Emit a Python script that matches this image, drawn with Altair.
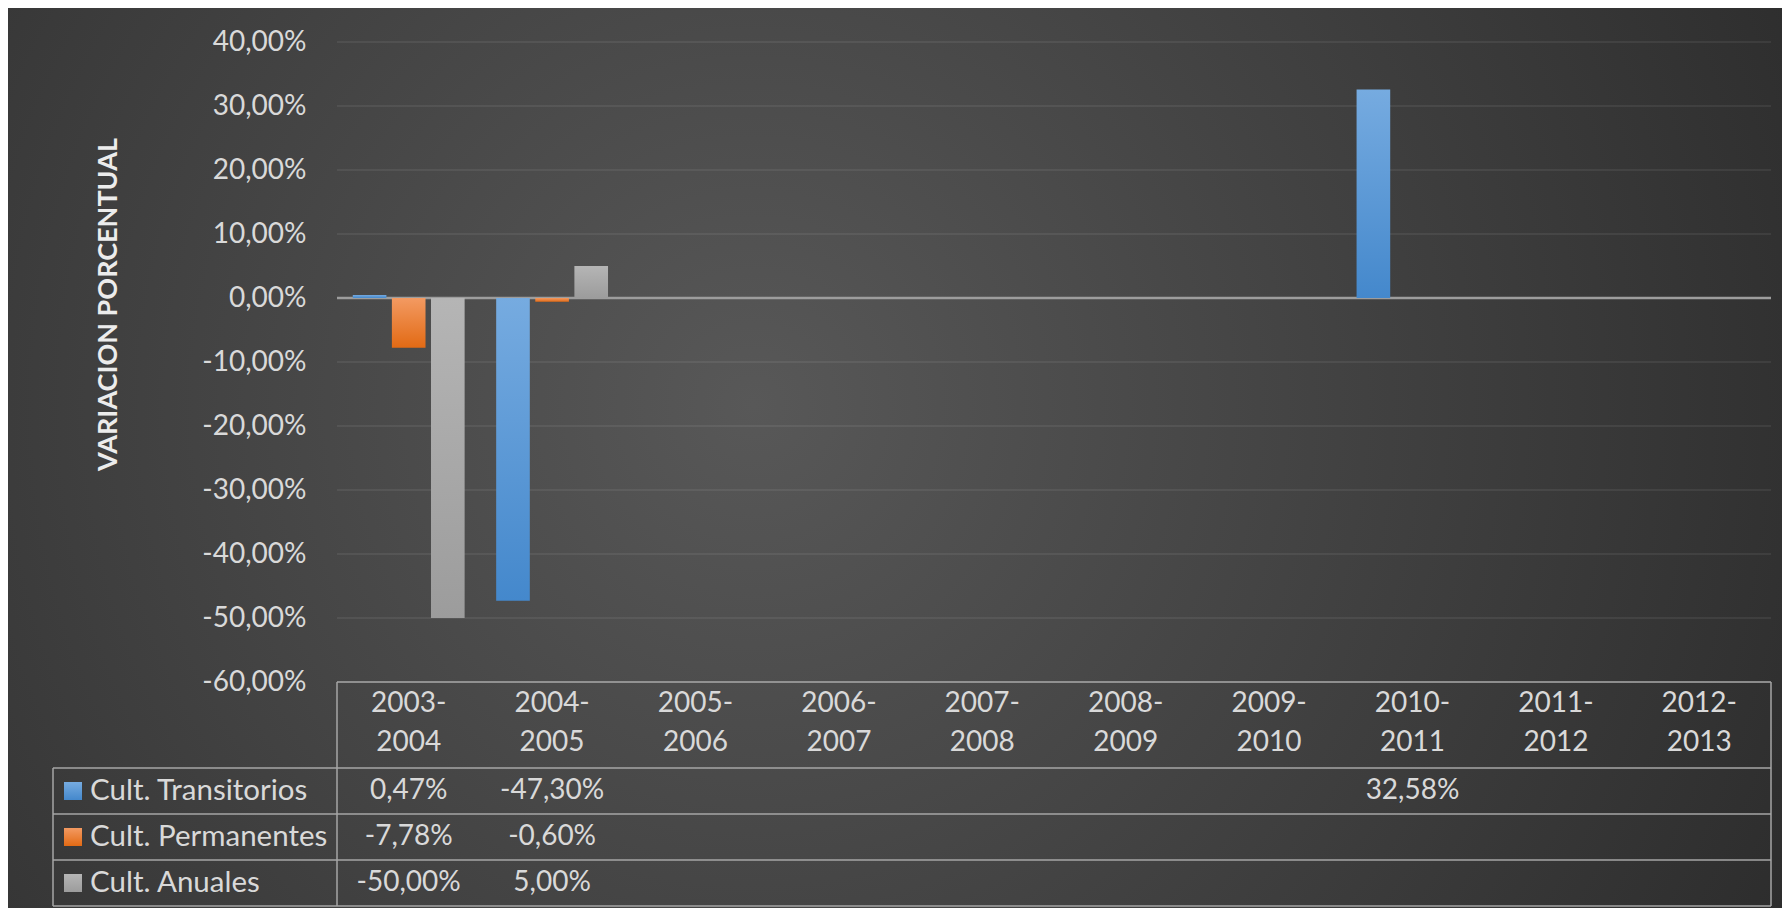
import altair as alt
import pandas as pd

categories = ["2003-2004", "2004-2005", "2005-2006", "2006-2007", "2007-2008",
              "2008-2009", "2009-2010", "2010-2011", "2011-2012", "2012-2013"]
series = ["Cult. Transitorios", "Cult. Permanentes", "Cult. Anuales"]
transitorios = [0.47, -47.30, None, None, None, None, None, 32.58, None, None]
permanentes = [-7.78, -0.60, None, None, None, None, None, None, None, None]
anuales = [-50.00, 5.00, None, None, None, None, None, None, None, None]
y_ticks = [40, 30, 20, 10, 0, -10, -20, -30, -40, -50, -60]

grad_colors = {
    "Cult. Transitorios": ("#76abe0", "#4488cc"),
    "Cult. Permanentes": ("#f39a62", "#e26a14"),
    "Cult. Anuales": ("#b5b5b5", "#9c9c9c"),
}

rows = []
for s, vals in zip(series, [transitorios, permanentes, anuales]):
    for c, v in zip(categories, vals):
        rows.append({"cat": c, "serie": s, "valor": v})
df = pd.DataFrame(rows)
df_cat = pd.DataFrame({"cat": categories})
df_ticks = pd.DataFrame({"t": [t for t in y_ticks if t != 0]})
one = pd.DataFrame({"k": [0]})

W, H = 1434, 640
PAD = {"left": 329, "top": 34, "right": 11, "bottom": 226}
FONT = "Lato"
FS = 28
TXT = "#d9d9d9"
LINE = "#a6a6a6"

x_scale = alt.Scale(domain=categories, paddingInner=0.22, paddingOuter=0.11)
y_scale = alt.Scale(domain=[-60, 40], nice=False, zero=True)
xoff_scale = alt.Scale(domain=series, paddingInner=0.14, paddingOuter=0)
fmt = "replace(replace(format(datum.value, '.2f'), '.', ','), '\u2212', '-') + '%'"
fmt_v = "replace(replace(format(datum.valor, '.2f'), '.', ','), '\u2212', '-') + '%'"

y_axis = alt.Axis(values=y_ticks, labelExpr=fmt, grid=False, domain=False, ticks=False,
                  labelPadding=31, labelFontSize=FS, labelColor=TXT, labelFont=FONT,
                  title="VARIACION PORCENTUAL", titleFont=FONT, titleFontSize=27,
                  titleFontWeight="bold", titleColor="#ececec", titleX=-229, titleY=262,
                  titleAngle=270, titleAlign="center", titleBaseline="middle", zindex=1)


def grad(c1, c2):
    return alt.LinearGradient(gradient="linear", x1=0, y1=0, x2=0, y2=1,
                              stops=[alt.GradientStop(color=c1, offset=0),
                                     alt.GradientStop(color=c2, offset=1)])


# background panel
bg = alt.Chart(one).mark_rect(
    fill=alt.RadialGradient(gradient="radial", x1=0.42, y1=0.47, x2=0.42, y2=0.47,
                            r1=0, r2=0.75,
                            stops=[alt.GradientStop(color="#585858", offset=0),
                                   alt.GradientStop(color="#262626", offset=1)])
).encode(x=alt.value(-PAD["left"]), x2=alt.value(W + PAD["right"]),
         y=alt.value(-PAD["top"]), y2=alt.value(H + PAD["bottom"]))

grid = alt.Chart(df_ticks).mark_rule(color="#ffffff", opacity=0.09, strokeWidth=1.5).encode(
    y=alt.Y("t:Q", scale=y_scale, axis=y_axis), x=alt.value(0), x2=alt.value(W))

zero = alt.Chart(one).mark_rule(color="#9d9d9d", strokeWidth=2.5).encode(
    y=alt.YDatum(0, scale=y_scale, axis=y_axis),
    x=alt.value(0), x2=alt.value(W))

layers = [bg, grid, zero]
for s in series:
    c1, c2 = grad_colors[s]
    layers.append(
        alt.Chart(df).transform_filter(alt.datum.serie == s).mark_bar(color=grad(c1, c2)).encode(
            x=alt.X("cat:N", scale=x_scale, axis=None),
            xOffset=alt.XOffset("serie:N", scale=xoff_scale),
            y=alt.Y("valor:Q", scale=y_scale, axis=y_axis),
        )
    )

# table: category header (two lines)
for expr, yy in [("substring(datum.cat, 0, 5)", 662), ("substring(datum.cat, 5)", 701)]:
    layers.append(
        alt.Chart(df_cat).transform_calculate(lbl=expr).mark_text(
            font=FONT, fontSize=FS, color=TXT, baseline="middle", align="center"
        ).encode(x=alt.X("cat:N", scale=x_scale, axis=None), y=alt.value(yy), text="lbl:N")
    )

row_lines = [726, 772, 818, 864]
row_centers = [749, 795, 841]
for s, yc in zip(series, row_centers):
    layers.append(
        alt.Chart(df).transform_filter(alt.datum.serie == s)
        .transform_filter("isValid(datum.valor)")
        .transform_calculate(lbl=fmt_v)
        .mark_text(font=FONT, fontSize=FS, color=TXT, baseline="middle", align="center")
        .encode(x=alt.X("cat:N", scale=x_scale, axis=None), y=alt.value(yc), text="lbl:N")
    )
    c1, c2 = grad_colors[s]
    layers.append(
        alt.Chart(pd.DataFrame({"serie": [s]})).mark_rect(fill=grad(c1, c2)).encode(
            x=alt.value(-273), x2=alt.value(-255), y=alt.value(yc - 9), y2=alt.value(yc + 9))
    )
    layers.append(
        alt.Chart(pd.DataFrame({"serie": [s]})).mark_text(
            font=FONT, fontSize=29.5, color=TXT, baseline="middle", align="left"
        ).encode(x=alt.value(-247), y=alt.value(yc), text="serie:N")
    )

# table grid lines
def hline(x0, x1, yy):
    return alt.Chart(one).mark_rule(color=LINE, strokeWidth=1.5).encode(
        x=alt.value(x0), x2=alt.value(x1), y=alt.value(yy))


def vline(xx, y0, y1):
    return alt.Chart(one).mark_rule(color=LINE, strokeWidth=1.5).encode(
        x=alt.value(xx), y=alt.value(y0), y2=alt.value(y1))


layers.append(hline(0, W, H))
for yy in row_lines:
    layers.append(hline(-284, W, yy))
layers.append(vline(0, H, row_lines[-1]))
layers.append(vline(W, H, row_lines[-1]))
layers.append(vline(-284, row_lines[0], row_lines[-1]))

chart = alt.layer(*layers).properties(
    width=W, height=H, padding=PAD,
    autosize=alt.AutoSizeParams(type="none"),
    background="#2a2a2a",
).configure_view(stroke=None)

chart.save("out.html", embed_options={"renderer": "svg", "actions": False})
